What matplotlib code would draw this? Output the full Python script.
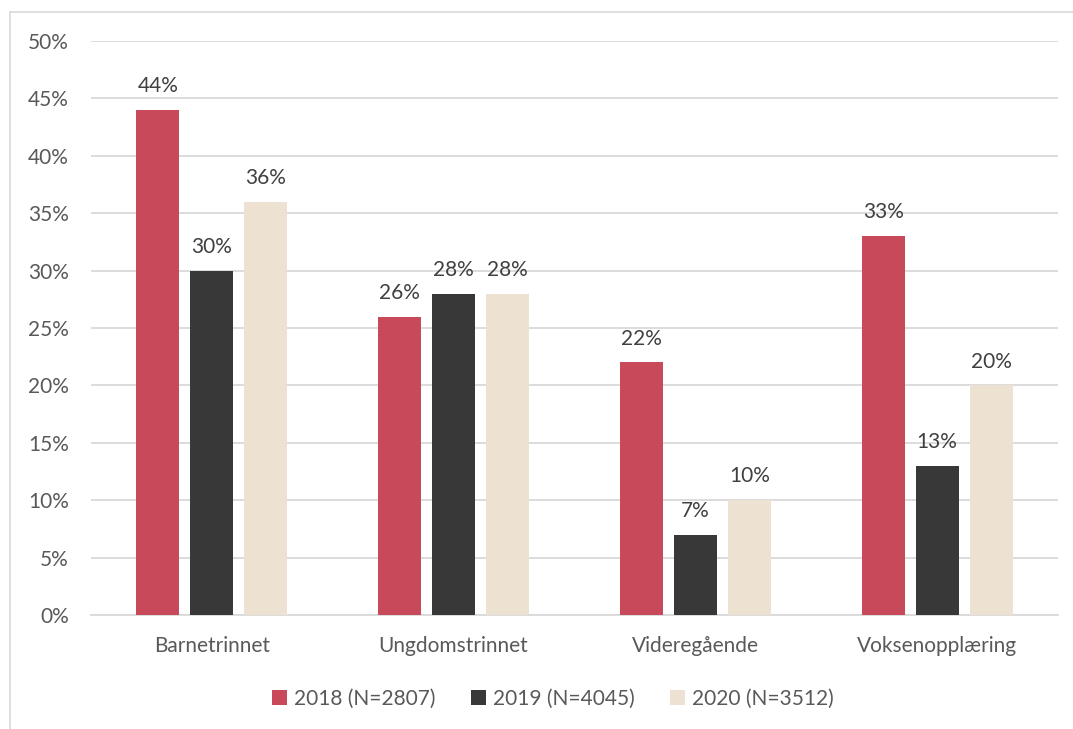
import matplotlib
matplotlib.use("Agg")
import matplotlib.pyplot as plt
from matplotlib.lines import Line2D
from matplotlib.patches import Patch
import numpy as np

categories = ["Barnetrinnet", "Ungdomstrinnet", "Videregående", "Voksenopplæring"]
series_names = ["2018 (N=2807)", "2019 (N=4045)", "2020 (N=3512)"]
values_2018 = [44, 26, 22, 33]
values_2019 = [30, 28, 7, 13]
values_2020 = [36, 28, 10, 20]
y_ticks = [0, 5, 10, 15, 20, 25, 30, 35, 40, 45, 50]

colors = ["#C84A5A", "#383838", "#EDE1D2"]
text_color = "#595959"
grid_color = "#D9D9D9"

plt.rcParams['font.family'] = ['Lato', 'DejaVu Sans']
FS = 15

W, H = 1073, 729
fig = plt.figure(figsize=(W / 100, H / 100), dpi=100)
ax = fig.add_axes([91 / W, 1 - 615 / H, (1058 - 91) / W, (615 - 41) / H])

x = np.arange(len(categories))
bw = 0.178
offsets = [-0.223, 0.0, 0.223]
all_vals = [values_2018, values_2019, values_2020]
for vals, off, c, name in zip(all_vals, offsets, colors, series_names):
    bars = ax.bar(x + off, vals, width=bw, color=c, label=name, zorder=3)
    for b, v in zip(bars, vals):
        ax.annotate(f"{v}%", (b.get_x() + b.get_width() / 2, v),
                    xytext=(0, 10), textcoords="offset points",
                    ha="center", va="bottom", fontsize=FS, color="#404040")

ax.set_xlim(-0.5, len(categories) - 0.5)
ax.set_ylim(0, 50)
ax.set_yticks(y_ticks)
ax.set_yticklabels([f"{t}%" for t in y_ticks])
ax.set_xticks(x)
ax.set_xticklabels(categories)
ax.tick_params(axis="both", length=0, labelsize=FS, labelcolor=text_color)
ax.tick_params(axis="y", pad=16)
ax.tick_params(axis="x", pad=15)
ax.yaxis.grid(True, color=grid_color, linewidth=1.3, zorder=0)
ax.set_axisbelow(True)
for s in ["top", "right", "left"]:
    ax.spines[s].set_visible(False)
ax.spines["bottom"].set_color(grid_color)
ax.spines["bottom"].set_linewidth(1.3)

handles = [Patch(facecolor=c, edgecolor="none") for c in colors]
fig.legend(handles, series_names, loc="center", bbox_to_anchor=(553 / W, 1 - 699 / H),
           ncol=3, frameon=False, fontsize=FS, labelcolor=text_color,
           handlelength=0.7, handleheight=0.7, handletextpad=0.35, columnspacing=1.7)

fig.add_artist(Line2D([10 / W, 1], [1 - 12 / H, 1 - 12 / H], color=grid_color, linewidth=1.2,
                      transform=fig.transFigure))
fig.add_artist(Line2D([10 / W, 10 / W], [0, 1 - 12 / H], color=grid_color, linewidth=1.2,
                      transform=fig.transFigure))

fig.savefig("out.png", dpi=100)
